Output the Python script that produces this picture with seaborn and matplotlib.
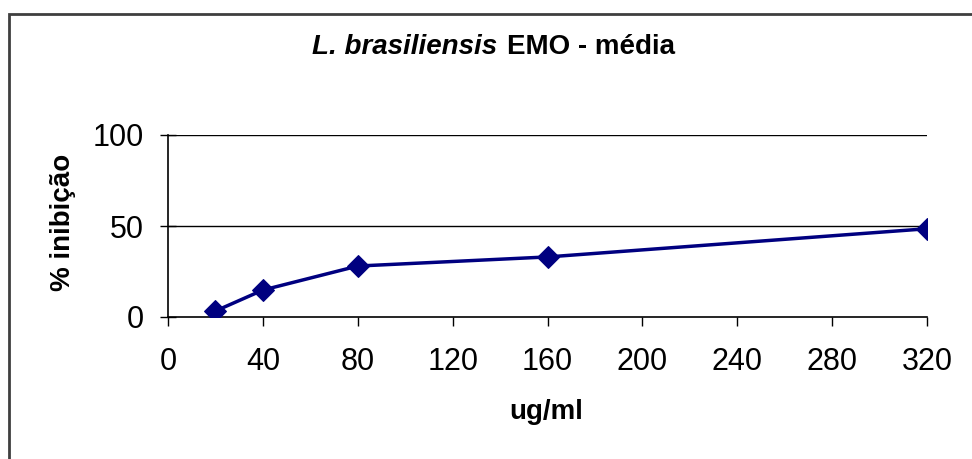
import numpy as np
import pandas as pd
import matplotlib
matplotlib.use("Agg")
import matplotlib.pyplot as plt
import seaborn as sns
from matplotlib.patches import Rectangle

# dados
concentracao = [20, 40, 80, 160, 320]
inibicao = [3.3, 14.8, 28.0, 33.0, 48.5]
erro = [1.5, 1.5, 1.5, 1.0, 0.0]
x_ticks = [0, 40, 80, 120, 160, 200, 240, 280, 320]
y_ticks = [0, 50, 100]

sns.set_style("white")
plt.rcParams['font.family'] = ['Liberation Sans', 'DejaVu Sans']
plt.rcParams['text.color'] = 'black'
plt.rcParams['xtick.color'] = 'black'
plt.rcParams['ytick.color'] = 'black'
plt.rcParams['xtick.bottom'] = True
plt.rcParams['ytick.left'] = True

df = pd.DataFrame({'ug/ml': concentracao, 'inibicao': inibicao, 'erro': erro})

fig = plt.figure(figsize=(9.72, 4.59), dpi=100)
ax = fig.add_axes([168 / 972, 1 - 317 / 459, (927 - 168) / 972, (317 - 135) / 459])

# moldura externa
fig.patches.append(Rectangle((8.5 / 972, -0.1), 1.2, 1 - 13.5 / 459 + 0.1,
                             transform=fig.transFigure, fill=False,
                             edgecolor='#3f3f3f', linewidth=2))

ax.errorbar(df['ug/ml'], df['inibicao'], yerr=df['erro'], fmt='none',
            ecolor='black', elinewidth=1, capsize=5, capthick=1, zorder=2)
sns.lineplot(data=df, x='ug/ml', y='inibicao', ax=ax, color='#000080',
             marker='D', markersize=11.5, markeredgecolor='#000080',
             linewidth=2.5, zorder=3)

ax.set_xlim(0, 320)
ax.set_ylim(0, 100)
ax.set_xticks(x_ticks)
ax.set_yticks(y_ticks)
ax.tick_params(axis='x', labelsize=22, direction='out', length=6.5,
               width=1, bottom=True, pad=15)
ax.tick_params(axis='y', labelsize=22, direction='inout', length=11,
               width=1, left=True, pad=12)
for y in y_ticks[1:]:
    ax.axhline(y, color='black', linewidth=1, zorder=1)

for s in ['top', 'right']:
    ax.spines[s].set_visible(False)
for s in ['left', 'bottom']:
    ax.spines[s].set_color('black')
    ax.spines[s].set_linewidth(1.2)

ax.set_xlabel('')
ax.set_ylabel('')
fig.text(546 / 972, 1 - 412 / 459, 'ug/ml', fontsize=20, fontweight='bold',
         ha='center', va='center')
fig.text(63 / 972, 1 - 222 / 459, '% inibição', fontsize=20, fontweight='bold',
         rotation=90, ha='center', va='center')

# título
fig.text(497 / 972, 1 - 47 / 459, 'L. brasiliensis', fontsize=20,
         fontweight='bold', fontstyle='italic', ha='right', va='center')
fig.text(507 / 972, 1 - 47 / 459, 'EMO - média', fontsize=20,
         fontweight='bold', ha='left', va='center')

fig.savefig('out.png', dpi=100)
